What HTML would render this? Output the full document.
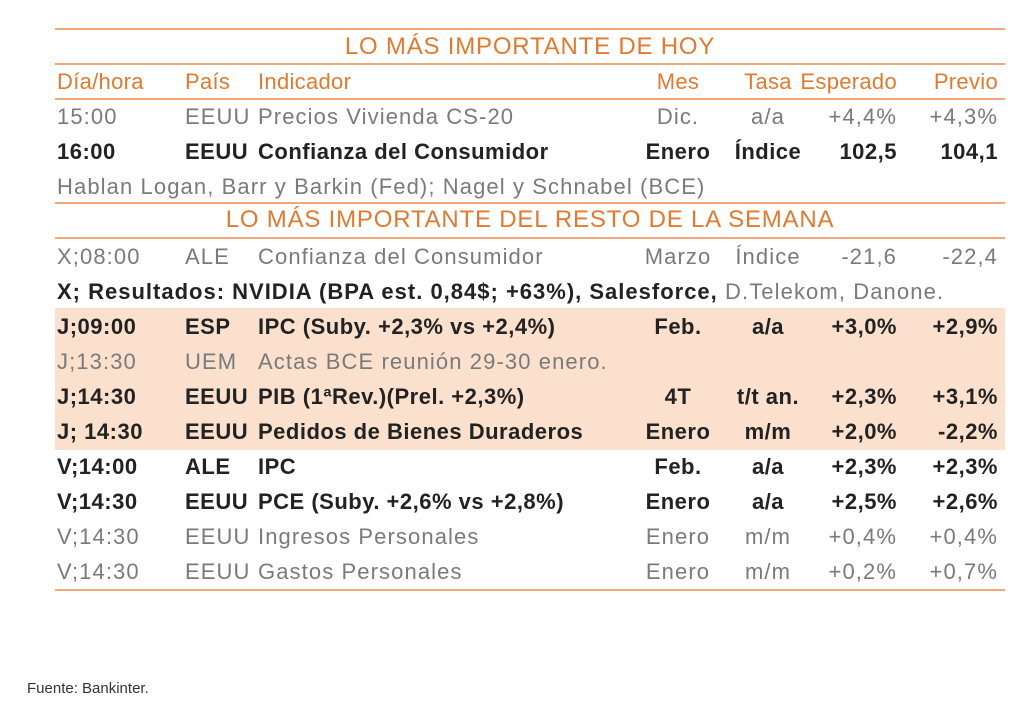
<!DOCTYPE html>
<html><head><meta charset="utf-8"><style>
body{margin:0;width:1024px;height:714px;background:#fff;position:relative;overflow:hidden;font-family:"Liberation Sans",sans-serif}
.l{position:absolute;left:55px;width:950px;height:2px;background:#f0a878}
.band{position:absolute;left:55px;width:950px;top:308px;height:142px;background:#fbe0cd}
.r{position:absolute;left:0;width:1024px;height:35px;line-height:35px;font-size:22px;color:#7a7a7a;white-space:nowrap;letter-spacing:1.1px}
.r span{position:absolute;top:0}
.b{color:#222;font-weight:bold;letter-spacing:0.5px}
.o{color:#e07a30;letter-spacing:0.3px}
.t{position:absolute;left:55px;width:950px;text-align:center;font-size:24px;color:#e07a30;line-height:34px;letter-spacing:0.8px}
.c1{left:57px}.c2{left:185px}.c3{left:258px}
.c4{left:628px;width:100px;text-align:center}
.c5{left:728px;width:80px;text-align:center}
.c6{left:797px;width:100px;text-align:right}
.c7{left:898px;width:100px;text-align:right}
</style></head><body>
<div class="band"></div>
<div class="l" style="top:28px"></div>
<div class="t" style="top:30px">LO MÁS IMPORTANTE DE HOY</div>
<div class="l" style="top:63px"></div>
<div class="r o" style="top:64px"><span class="c1">Día/hora</span><span class="c2">País</span><span class="c3">Indicador</span><span class="c4">Mes</span><span class="c5">Tasa</span><span class="c6">Esperado</span><span class="c7">Previo</span></div>
<div class="l" style="top:98px"></div>
<div class="r" style="top:99px"><span class="c1">15:00</span><span class="c2">EEUU</span><span class="c3">Precios Vivienda CS-20</span><span class="c4">Dic.</span><span class="c5">a/a</span><span class="c6">+4,4%</span><span class="c7">+4,3%</span></div>
<div class="r b" style="top:134px"><span class="c1">16:00</span><span class="c2">EEUU</span><span class="c3">Confianza del Consumidor</span><span class="c4">Enero</span><span class="c5">Índice</span><span class="c6">102,5</span><span class="c7">104,1</span></div>
<div class="r" style="top:169px"><span class="c1">Hablan Logan, Barr y Barkin (Fed); Nagel y Schnabel (BCE)</span></div>
<div class="l" style="top:202px"></div>
<div class="t" style="top:203px">LO MÁS IMPORTANTE DEL RESTO DE LA SEMANA</div>
<div class="l" style="top:237px"></div>
<div class="r" style="top:239px"><span class="c1">X;08:00</span><span class="c2">ALE</span><span class="c3">Confianza del Consumidor</span><span class="c4">Marzo</span><span class="c5">Índice</span><span class="c6">-21,6</span><span class="c7">-22,4</span></div>
<div class="r" style="top:274px"><span class="c1"><b style="color:#222;letter-spacing:1px">X; Resultados: NVIDIA (BPA est. 0,84$; +63%), Salesforce,</b> D.Telekom, Danone.</span></div>
<div class="r b" style="top:309px"><span class="c1">J;09:00</span><span class="c2">ESP</span><span class="c3">IPC (Suby. +2,3% vs +2,4%)</span><span class="c4">Feb.</span><span class="c5">a/a</span><span class="c6">+3,0%</span><span class="c7">+2,9%</span></div>
<div class="r" style="top:344px"><span class="c1">J;13:30</span><span class="c2">UEM</span><span class="c3">Actas BCE reunión 29-30 enero.</span></div>
<div class="r b" style="top:379px"><span class="c1">J;14:30</span><span class="c2">EEUU</span><span class="c3">PIB (1ªRev.)(Prel. +2,3%)</span><span class="c4">4T</span><span class="c5">t/t an.</span><span class="c6">+2,3%</span><span class="c7">+3,1%</span></div>
<div class="r b" style="top:414px"><span class="c1">J; 14:30</span><span class="c2">EEUU</span><span class="c3">Pedidos de Bienes Duraderos</span><span class="c4">Enero</span><span class="c5">m/m</span><span class="c6">+2,0%</span><span class="c7">-2,2%</span></div>
<div class="r b" style="top:449px"><span class="c1">V;14:00</span><span class="c2">ALE</span><span class="c3">IPC</span><span class="c4">Feb.</span><span class="c5">a/a</span><span class="c6">+2,3%</span><span class="c7">+2,3%</span></div>
<div class="r b" style="top:484px"><span class="c1">V;14:30</span><span class="c2">EEUU</span><span class="c3">PCE (Suby. +2,6% vs +2,8%)</span><span class="c4">Enero</span><span class="c5">a/a</span><span class="c6">+2,5%</span><span class="c7">+2,6%</span></div>
<div class="r" style="top:519px"><span class="c1">V;14:30</span><span class="c2">EEUU</span><span class="c3">Ingresos Personales</span><span class="c4">Enero</span><span class="c5">m/m</span><span class="c6">+0,4%</span><span class="c7">+0,4%</span></div>
<div class="r" style="top:554px"><span class="c1">V;14:30</span><span class="c2">EEUU</span><span class="c3">Gastos Personales</span><span class="c4">Enero</span><span class="c5">m/m</span><span class="c6">+0,2%</span><span class="c7">+0,7%</span></div>
<div class="l" style="top:589px"></div>
<div style="position:absolute;left:27px;top:680px;font-size:15px;color:#333">Fuente: Bankinter.</div>
</body></html>
